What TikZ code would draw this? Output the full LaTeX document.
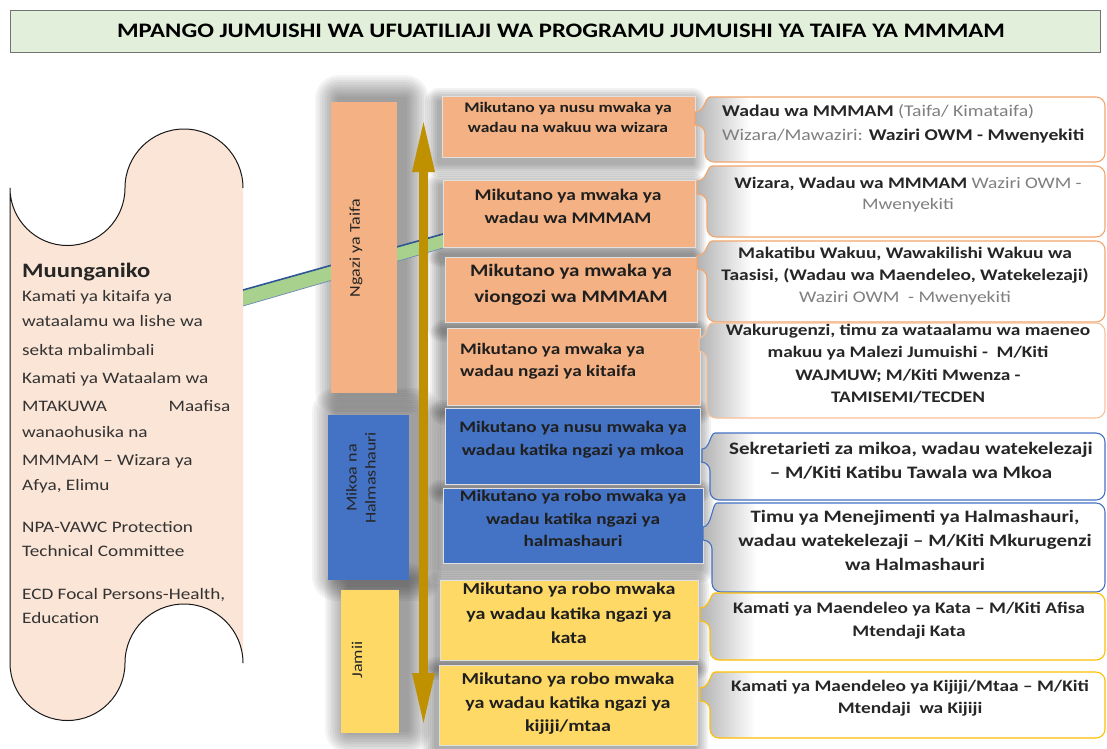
\documentclass[tikz,border=0pt]{standalone}
\usepackage{fontspec}
\setmainfont{Carlito}[FakeStretch=1.2]
\usetikzlibrary{arrows.meta,calc}
\definecolor{titlefill}{HTML}{E2EFDA}
\definecolor{peach}{HTML}{FBE5D6}
\definecolor{orng}{HTML}{F4B183}
\definecolor{orngline}{HTML}{F2A66E}
\definecolor{blu}{HTML}{4472C4}
\definecolor{yel}{HTML}{FFD966}
\definecolor{yelline}{HTML}{FFC000}
\definecolor{gold}{HTML}{BF9000}
\definecolor{grn}{HTML}{A9D18E}
\definecolor{dblue}{HTML}{2F5597}
\definecolor{txtgray}{HTML}{333333}
\definecolor{midgray}{HTML}{7F7F7F}
\newcommand{\fsz}[2]{\fontsize{#1}{#2}\selectfont}
% soft shadow: x1 y1 x2 y2 dx dy steps stepsize opacity
\newcommand{\softsh}[9]{%
  \foreach \k in {1,...,#7} {
    \fill[black, opacity=#9, rounded corners=\k*#8 pt] (#1+#5-\k*#8, #2+#6-\k*#8) rectangle (#3+#5+\k*#8, #4+#6+\k*#8);
  }%
}
\newcommand{\mycall}[7]{%
  \path[rounded corners=9pt, save path=\tmpcallpath] (#5,#6) .. controls (#2,#6) and (#2,#3) .. (#2+14,#3) -- (1105,#3) -- (1105,#4) -- (#2,#4) -- (#2,#6+13) [sharp corners] -- (#5,#6+13) -- cycle;
  \path[use path=\tmpcallpath, fill=white];
  \begin{scope}
    \clip[use path=\tmpcallpath];
    \shade[left color=black!30, right color=white] (#5,#3) rectangle (#2+45,#4);
  \end{scope}
  \path[use path=\tmpcallpath, draw=#7, line width=1.1pt];
  \coordinate (#1) at (#2,#6);
}
\begin{document}
\begin{tikzpicture}[x=1pt,y=-1pt,
  levelbox/.style={inner sep=0pt, outer sep=0pt, anchor=north west},
  midbox/.style={inner sep=0pt, outer sep=0pt, anchor=north west, draw=black!12, line width=0.4pt},
  lbl/.style={inner sep=0pt, rotate=90, text=black!85, align=center, font=\fsz{15}{19}},
  ltxt/.style={inner sep=0pt, anchor=base west, text=txtgray, font=\fsz{16}{19}},
  mtxt/.style={inner sep=0pt, anchor=base, text=black!88, font=\bfseries\fsz{16}{18}},
  ctxt/.style={inner sep=0pt, anchor=base, text=black!85, font=\bfseries\fsz{16.1}{20}},
  gr/.style={text=midgray}
]
\useasboundingbox (0,0) rectangle (1107,748);
\fill[white] (0,0) rectangle (1107,748);

% title
\node[draw=black!55, line width=0.8pt, fill=titlefill, inner sep=0pt, anchor=north west,
  minimum width=1090pt, minimum height=42pt] (title) at (10,10) {};
\node[inner sep=0pt, anchor=base, font=\bfseries\fsz{20.6}{24}] (titletxt) at (561,37)
  {MPANGO JUMUISHI WA UFUATILIAJI WA PROGRAMU JUMUISHI YA TAIFA YA MMMAM};

% left wave shape
\fill[peach]
  (10,188) .. controls (10,219.76) and (35.74,245.5) .. (67.5,245.5)
  .. controls (99.26,245.5) and (125,219.76) .. (125,188)
  .. controls (125,155.4) and (151.4,129) .. (184,129)
  .. controls (216.6,129) and (243,155.4) .. (243,188)
  -- (243,663)
  .. controls (243,630.4) and (216.6,604) .. (184,604)
  .. controls (151.4,604) and (125,630.4) .. (125,663)
  .. controls (125,694.76) and (99.26,720.5) .. (67.5,720.5)
  .. controls (35.74,720.5) and (10,694.76) .. (10,663) -- cycle;
\draw[line width=1pt, draw=black!90, line join=round]
  (243,188) .. controls (243,155.4) and (216.6,129) .. (184,129)
  .. controls (151.4,129) and (125,155.4) .. (125,188)
  .. controls (125,219.76) and (99.26,245.5) .. (67.5,245.5)
  .. controls (35.74,245.5) and (10,219.76) .. (10,188)
  -- (10,663)
  .. controls (10,694.76) and (35.74,720.5) .. (67.5,720.5)
  .. controls (99.26,720.5) and (125,694.76) .. (125,663)
  .. controls (125,630.4) and (151.4,604) .. (184,604)
  .. controls (216.6,604) and (243,630.4) .. (243,663);
\coordinate (shapeR) at (243,298);

\node[inner sep=0pt, anchor=base west, font=\bfseries\fsz{20.5}{24}, text=black!85] (mu) at (22,277) {Muunganiko};
\node[ltxt] (l1) at (22,301) {Kamati ya kitaifa ya};
\node[ltxt] (l2) at (22,326) {wataalamu wa lishe wa};
\node[ltxt] (l3) at (22,355) {sekta mbalimbali};
\node[ltxt] (l4) at (22,383) {Kamati ya Wataalam wa};
\node[ltxt] (l5) at (22,411) {\makebox[208pt][s]{MTAKUWA\hfill Maafisa}};
\node[ltxt] (l6) at (22,437) {wanaohusika na};
\node[ltxt] (l7) at (22,465) {MMMAM -- Wizara ya};
\node[ltxt] (l8) at (22,490) {Afya, Elimu};
\node[ltxt] (l9) at (22,532) {NPA-VAWC Protection};
\node[ltxt] (l10) at (22,556) {Technical Committee};
\node[ltxt] (l11) at (22,599) {ECD Focal Persons-Health,};
\node[ltxt] (l12) at (22,623) {Education};

% shadows
\softsh{331}{102}{397}{393}{8}{-3}{10}{2.4}{0.045}
\softsh{328}{415}{409}{580}{8}{-3}{10}{2.4}{0.045}
\softsh{341}{590}{399}{733}{8}{-3}{10}{2.4}{0.045}
\softsh{442}{96}{695}{157}{-3}{6}{7}{2}{0.05}
\softsh{443}{180}{695}{247}{-3}{6}{7}{2}{0.05}
\softsh{445}{257}{697}{322}{-3}{6}{7}{2}{0.05}
\softsh{447}{328}{700}{405}{-3}{6}{7}{2}{0.05}
\softsh{445}{408}{700}{484}{-3}{6}{7}{2}{0.05}
\softsh{443}{488}{703}{563}{-3}{6}{7}{2}{0.05}
\softsh{440}{580}{698}{660}{-3}{6}{7}{2}{0.05}
\softsh{439}{665}{697}{745}{-3}{6}{7}{2}{0.05}

% green band (connector from left shape to 2nd meeting box)
\coordinate (bandR) at (443,241);
\fill[grn] ($(shapeR)+(0,-8)$) -- ($(bandR)+(0,-7)$) -- ($(bandR)+(0,7)$) -- ($(shapeR)+(0,8)$) -- cycle;
\draw[dblue, line width=1.6pt] ($(shapeR)+(0,-8)$) -- ($(bandR)+(0,-7)$);
\draw[dblue!70, line width=0.7pt] ($(shapeR)+(0,8)$) -- ($(bandR)+(0,7)$);

% level boxes
\node[levelbox, fill=orng, minimum width=66pt, minimum height=291pt] (lv1) at (331,102) {};
\node[lbl] (lv1t) at (356,248) {Ngazi ya Taifa};
\node[levelbox, fill=blu, minimum width=81pt, minimum height=165pt] (lv2) at (328,415) {};
\node[lbl] (lv2t) at (361,478) {Mikoa na\\Halmashauri};
\node[levelbox, fill=yel, minimum width=58pt, minimum height=143pt] (lv3) at (341,590) {};
\node[lbl] (lv3t) at (357,660) {Jamii};

% meeting boxes
\node[midbox, fill=orng, minimum width=253pt, minimum height=61pt] (m1) at (442,96) {};
\node[midbox, fill=orng, minimum width=252pt, minimum height=67pt] (m2) at (443,180) {};
\node[midbox, fill=orng, minimum width=252pt, minimum height=65pt] (m3) at (445,257) {};
\node[midbox, fill=orng, minimum width=253pt, minimum height=77pt] (m4) at (447,328) {};
\node[midbox, fill=blu, minimum width=255pt, minimum height=76pt] (m5) at (445,408) {};
\node[midbox, fill=blu, minimum width=260pt, minimum height=75pt] (m6) at (443,488) {};
\node[midbox, fill=yel, minimum width=258pt, minimum height=80pt] (m7) at (440,580) {};
\node[midbox, fill=yel, minimum width=258pt, minimum height=80pt] (m8) at (439,665) {};

% gold double arrow
\coordinate (atop) at (423.5,117);
\coordinate (abot) at (423.5,728);
\draw[gold, line width=9pt, {Triangle[length=55pt,width=20pt]}-{Triangle[length=55pt,width=20pt]}] (atop) -- (abot);

% meeting texts
\node[mtxt, font=\bfseries\fsz{14.6}{16}] (t1a) at (568,112) {Mikutano ya nusu mwaka ya};
\node[mtxt, font=\bfseries\fsz{14.6}{16}] (t1b) at (568,132) {wadau na wakuu wa wizara};
\node[mtxt, font=\bfseries\fsz{16.2}{18}] (t2a) at (568,200) {Mikutano ya mwaka ya};
\node[mtxt, font=\bfseries\fsz{16.2}{18}] (t2b) at (568,223) {wadau wa MMMAM};
\node[mtxt, font=\bfseries\fsz{17.5}{20}] (t3a) at (571,276) {Mikutano ya mwaka ya};
\node[mtxt, font=\bfseries\fsz{17.5}{20}] (t3b) at (571,302) {viongozi wa MMMAM};
\node[mtxt, anchor=base west] (t4a) at (460,354) {Mikutano ya mwaka ya};
\node[mtxt, anchor=base west] (t4b) at (460,376) {wadau ngazi ya kitaifa};
\node[mtxt] (t5a) at (573,432) {Mikutano ya nusu mwaka ya};
\node[mtxt] (t5b) at (573,455) {wadau katika ngazi ya mkoa};
\node[mtxt] (t6a) at (573,501) {Mikutano ya robo mwaka ya};
\node[mtxt] (t6b) at (573,524) {wadau katika ngazi ya};
\node[mtxt] (t6c) at (573,546) {halmashauri};
\node[mtxt, font=\bfseries\fsz{16.7}{18}] (t7a) at (569,594) {Mikutano ya robo mwaka};
\node[mtxt, font=\bfseries\fsz{16.7}{18}] (t7b) at (569,619) {ya wadau katika ngazi ya};
\node[mtxt, font=\bfseries\fsz{16.7}{18}] (t7c) at (569,643) {kata};
\node[mtxt, font=\bfseries\fsz{16.7}{18}] (t8a) at (568,684) {Mikutano ya robo mwaka};
\node[mtxt, font=\bfseries\fsz{16.7}{18}] (t8b) at (568,708) {ya wadau katika ngazi ya};
\node[mtxt, font=\bfseries\fsz{16.7}{18}] (t8c) at (568,731) {kijiji/mtaa};

% callouts
\mycall{c1}{705}{97}{162}{695}{112}{orngline}
\mycall{c2}{707}{166}{237}{697}{181}{orngline}
\mycall{c3}{707}{241}{322}{697}{256}{orngline}
\mycall{c4}{707}{323}{418}{699}{338}{orngline!70}
\mycall{c5}{710}{433}{500}{702}{449}{blu}
\mycall{c6}{712}{503}{592}{703}{527}{blu}
\mycall{c7}{710}{593}{660}{700}{608}{yelline}
\mycall{c8}{710}{672}{738}{700}{688}{yelline}

\node[ctxt, anchor=base west, font=\bfseries\fsz{16.4}{20}] (c1a) at (722,116) {Wadau wa MMMAM {\color{midgray}\mdseries(Taifa/ Kimataifa)}};
\node[ctxt, anchor=base west, font=\bfseries\fsz{16.4}{20}] (c1b) at (722,140) {{\color{midgray}\mdseries Wizara/Mawaziri:} Waziri OWM - Mwenyekiti};
\node[ctxt] (c2a) at (908,188) {Wizara, Wadau wa MMMAM {\color{midgray}\mdseries Waziri OWM -}};
\node[ctxt, gr, font=\mdseries\fsz{16.1}{20}] (c2b) at (908,209) {Mwenyekiti};
\node[ctxt, font=\bfseries\fsz{16.2}{20}] (c3a) at (905,258) {Makatibu Wakuu, Wawakilishi Wakuu wa};
\node[ctxt, font=\bfseries\fsz{16.2}{20}] (c3b) at (905,280) {Taasisi, (Wadau wa Maendeleo, Watekelezaji)};
\node[ctxt, gr, font=\mdseries\fsz{16.2}{20}] (c3c) at (905,302) {Waziri OWM \ - Mwenyekiti};
\node[ctxt] (c4a) at (908,335) {Wakurugenzi, timu za wataalamu wa maeneo};
\node[ctxt] (c4b) at (908,357) {makuu ya Malezi Jumuishi - \ M/Kiti};
\node[ctxt] (c4c) at (908,380) {WAJMUW; M/Kiti Mwenza -};
\node[ctxt] (c4d) at (908,402) {TAMISEMI/TECDEN};
\node[ctxt, font=\bfseries\fsz{17.5}{20}] (c5a) at (911,454) {Sekretarieti za mikoa, wadau watekelezaji};
\node[ctxt, font=\bfseries\fsz{17.5}{20}] (c5b) at (911,478) {-- M/Kiti Katibu Tawala wa Mkoa};
\node[ctxt, font=\bfseries\fsz{17.4}{20}] (c6a) at (915,522) {Timu ya Menejimenti ya Halmashauri,};
\node[ctxt, font=\bfseries\fsz{17.4}{20}] (c6b) at (915,546) {wadau watekelezaji -- M/Kiti Mkurugenzi};
\node[ctxt, font=\bfseries\fsz{17.4}{20}] (c6c) at (915,570) {wa Halmashauri};
\node[ctxt] (c7a) at (909,613) {Kamati ya Maendeleo ya Kata -- M/Kiti Afisa};
\node[ctxt] (c7b) at (909,636) {Mtendaji Kata};
\node[ctxt] (c8a) at (910,691) {Kamati ya Maendeleo ya Kijiji/Mtaa -- M/Kiti};
\node[ctxt] (c8b) at (910,713) {Mtendaji \ wa Kijiji};
\end{tikzpicture}
\end{document}
